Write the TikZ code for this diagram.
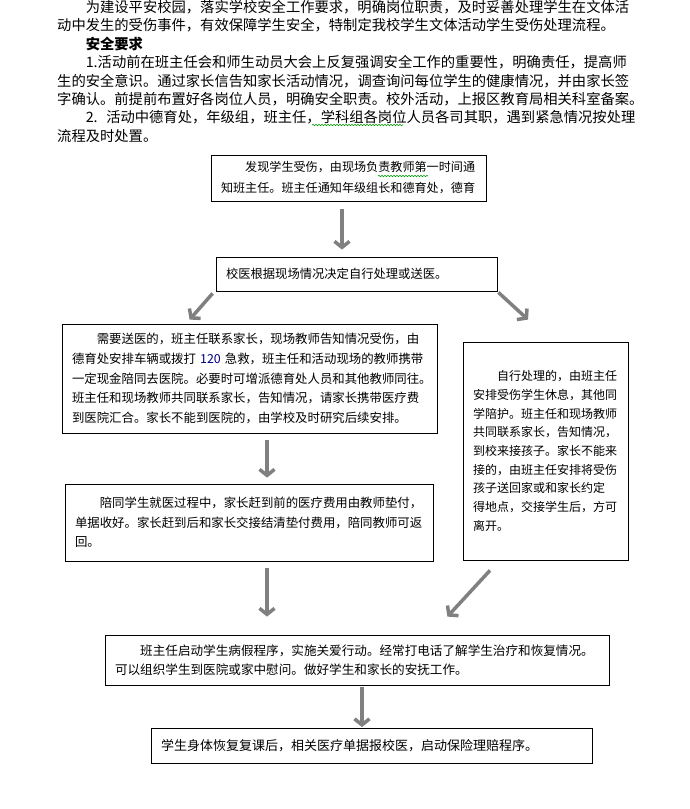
\documentclass[tikz,border=0pt]{standalone}
\usepackage{fontspec}
\setmainfont{Noto Sans CJK SC}
\usepackage{tikz}
\usetikzlibrary{calc}
\usetikzlibrary{arrows.meta}
\usetikzlibrary{decorations.pathmorphing}

\begin{document}
\begin{tikzpicture}[x=1pt, y=-1pt,
  stepbox/.style={draw=black, line width=0.8pt, rectangle, inner xsep=10pt, inner ysep=0pt, align=left, font=\fontsize{12.4pt}{19.5pt}\selectfont},
  flow/.style={draw=gray, line width=3.5pt, -{Straight Barb[length=6pt, width=15pt]}},
  wavy/.style={draw=green!60!black, line width=0.6pt, decorate, decoration={snake, amplitude=0.7pt, segment length=3pt}}]

\useasboundingbox (0,0) rectangle (690,809);

\node[anchor=base west, inner sep=0, text width=620pt, align=left, font=\fontsize{14.3pt}{18.4pt}\selectfont] (intro) at (57,12.4) {%
\hspace*{2em}为建设平安校园，落实学校安全工作要求，明确岗位职责，及时妥善处理学生在文体活\\
动中发生的受伤事件，有效保障学生安全，特制定我校学生文体活动学生受伤处理流程。\\
\hspace*{2em}{\bfseries 安全要求}\\
\hspace*{2em}1.活动前在班主任会和师生动员大会上反复强调安全工作的重要性，明确责任，提高师\\
生的安全意识。通过家长信告知家长活动情况，调查询问每位学生的健康情况，并由家长签\\
字确认。前提前布置好各岗位人员，明确安全职责。校外活动，上报区教育局相关科室备案。\\
\hspace*{2em}2.\hspace{0.6em}活动中德育处，年级组，班主任，学科组各岗位人员各司其职，遇到紧急情况按处理\\
流程及时处置。};
\draw[wavy] (312,125) -- (403,125);

\node[stepbox, text width=255pt, minimum height=46pt, font=\fontsize{12.1pt}{21pt}\selectfont] (report) at (348.5,178) {\hspace*{2em}发现学生受伤，由现场负责教师第一时间通\\知班主任。班主任通知年级组长和德育处，德育};
\draw[wavy] (378,176) -- (428,176);

\node[stepbox, text width=261pt, minimum height=34pt, font=\fontsize{12.3pt}{19.5pt}\selectfont] (doctor) at (356.5,274) {校医根据现场情况决定自行处理或送医。};

\node[stepbox, text width=355pt, minimum height=109pt, font=\fontsize{12.4pt}{19.7pt}\selectfont] (hospital) at (249.5,378.5) {\hspace*{2em}需要送医的，班主任联系家长，现场教师告知情况受伤，由\\德育处安排车辆或拨打 {\color{blue!50!black}120} 急救，班主任和活动现场的教师携带\\一定现金陪同去医院。必要时可增派德育处人员和其他教师同往。\\班主任和现场教师共同联系家长，告知情况，请家长携带医疗费\\到医院汇合。家长不能到医院的，由学校及时研究后续安排。};

\node[stepbox, text width=145pt, minimum height=218pt, font=\fontsize{12pt}{18.7pt}\selectfont] (selfcare) at (545.5,451) {\hspace*{2em}自行处理的，由班主任\\安排受伤学生休息，其他同\\学陪护。班主任和现场教师\\共同联系家长，告知情况，\\到校来接孩子。家长不能来\\接的，由班主任安排将受伤\\孩子送回家或和家长约定\\得地点，交接学生后，方可\\离开。};

\node[stepbox, text width=348pt, minimum height=77pt] (advance) at (249,522.5) {\hspace*{2em}陪同学生就医过程中，家长赶到前的医疗费用由教师垫付，\\单据收好。家长赶到后和家长交接结清垫付费用，陪同教师可返\\回。};

\node[stepbox, text width=484pt, minimum height=50pt, font=\fontsize{12.6pt}{19pt}\selectfont] (care) at (357,660) {\hspace*{2em}班主任启动学生病假程序，实施关爱行动。经常打电话了解学生治疗和恢复情况。\\可以组织学生到医院或家中慰问。做好学生和家长的安抚工作。};

\node[stepbox, text width=421pt, minimum height=35pt, font=\fontsize{13pt}{19.5pt}\selectfont] (claim) at (371.5,746) {学生身体恢复复课后，相关医疗单据报校医，启动保险理赔程序。};

\draw[flow] ([xshift=-6.5pt, yshift=-8pt]report.south) -- ([xshift=-14.5pt, yshift=7pt]doctor.north);
\draw[flow] ([xshift=-3pt, yshift=-2pt]doctor.south west) -- ([xshift=128pt, yshift=4pt]hospital.north west);
\draw[flow] ([xshift=1pt, yshift=-1pt]doctor.south east) -- ([xshift=-17.5pt, yshift=22pt]selfcare.north);
\draw[flow] ([xshift=17.5pt, yshift=-7pt]hospital.south) -- ([xshift=18pt, yshift=6pt]advance.north);
\draw[flow] ([xshift=18pt, yshift=-7pt]advance.south) -- ([xshift=-90pt, yshift=18pt]care.north);
\draw[flow] ([xshift=-55.5pt, yshift=-10pt]selfcare.south) -- ([xshift=-162pt, yshift=18pt]care.north east);
\draw[flow] ([xshift=5pt, yshift=-2pt]care.south) -- ([xshift=-9.5pt, yshift=1pt]claim.north);
\end{tikzpicture}
\end{document}
